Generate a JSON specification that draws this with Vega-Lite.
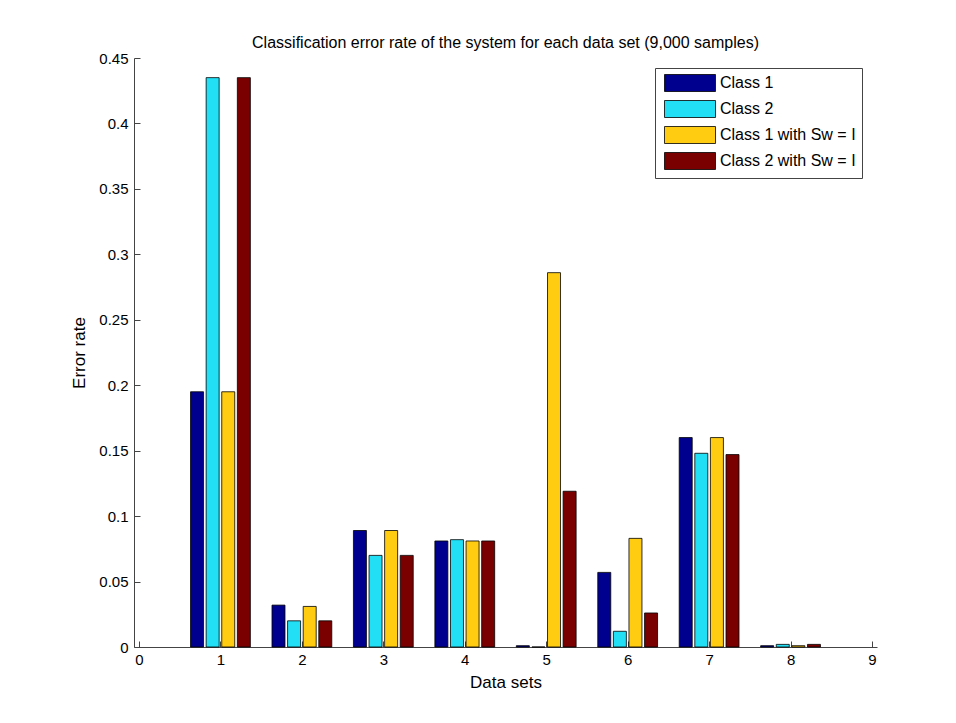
{
  "$schema": "https://vega.github.io/schema/vega-lite/v6.json",
  "width": 743,
  "height": 589,
  "autosize": {"type": "none"},
  "padding": {"left": 134, "top": 58, "right": 79, "bottom": 76},
  "background": "white",
  "config": {
    "font": "Liberation Sans",
    "view": {"stroke": null},
    "axis": {"grid": false, "domainColor": "#444", "tickColor": "#444", "labelColor": "black", "titleColor": "black", "labelFont": "Liberation Sans", "titleFont": "Liberation Sans", "labelFontSize": 15, "titleFontSize": 17, "titleFontWeight": "normal"}
  },
  "title": {"text": "Classification error rate of the system for each data set (9,000 samples)", "fontSize": 16, "fontWeight": "normal", "font": "Liberation Sans", "color": "black", "offset": 0, "frame": "group"},
  "data": {"values": [
    {"set": 1, "cls": "Class 1", "err": 0.195},
    {"set": 1, "cls": "Class 2", "err": 0.435},
    {"set": 1, "cls": "Class 1 with Sw = I", "err": 0.195},
    {"set": 1, "cls": "Class 2 with Sw = I", "err": 0.435},
    {"set": 2, "cls": "Class 1", "err": 0.032},
    {"set": 2, "cls": "Class 2", "err": 0.020},
    {"set": 2, "cls": "Class 1 with Sw = I", "err": 0.031},
    {"set": 2, "cls": "Class 2 with Sw = I", "err": 0.020},
    {"set": 3, "cls": "Class 1", "err": 0.089},
    {"set": 3, "cls": "Class 2", "err": 0.070},
    {"set": 3, "cls": "Class 1 with Sw = I", "err": 0.089},
    {"set": 3, "cls": "Class 2 with Sw = I", "err": 0.070},
    {"set": 4, "cls": "Class 1", "err": 0.081},
    {"set": 4, "cls": "Class 2", "err": 0.082},
    {"set": 4, "cls": "Class 1 with Sw = I", "err": 0.081},
    {"set": 4, "cls": "Class 2 with Sw = I", "err": 0.081},
    {"set": 5, "cls": "Class 1", "err": 0.001},
    {"set": 5, "cls": "Class 2", "err": 0.0},
    {"set": 5, "cls": "Class 1 with Sw = I", "err": 0.286},
    {"set": 5, "cls": "Class 2 with Sw = I", "err": 0.119},
    {"set": 6, "cls": "Class 1", "err": 0.057},
    {"set": 6, "cls": "Class 2", "err": 0.012},
    {"set": 6, "cls": "Class 1 with Sw = I", "err": 0.083},
    {"set": 6, "cls": "Class 2 with Sw = I", "err": 0.026},
    {"set": 7, "cls": "Class 1", "err": 0.160},
    {"set": 7, "cls": "Class 2", "err": 0.148},
    {"set": 7, "cls": "Class 1 with Sw = I", "err": 0.160},
    {"set": 7, "cls": "Class 2 with Sw = I", "err": 0.147},
    {"set": 8, "cls": "Class 1", "err": 0.001},
    {"set": 8, "cls": "Class 2", "err": 0.002},
    {"set": 8, "cls": "Class 1 with Sw = I", "err": 0.001},
    {"set": 8, "cls": "Class 2 with Sw = I", "err": 0.002}
  ]},
  "encoding": {
    "x": {"field": "set", "type": "quantitative", "scale": {"domain": [0, 9], "nice": false, "zero": false},
      "axis": {"values": [0,1,2,3,4,5,6,7,8,9], "format": "d", "title": "Data sets", "tickSize": -6, "labelPadding": 11, "titlePadding": 7, "labelFlush": false}},
    "y": {"field": "err", "type": "quantitative", "stack": null, "scale": {"domain": [0, 0.45], "nice": false},
      "axis": {"values": [0,0.05,0.1,0.15,0.2,0.25,0.3,0.35,0.4,0.45], "format": "~g", "title": "Error rate", "tickSize": -6, "labelPadding": 12, "titlePadding": 10}},
    "color": {"field": "cls", "type": "nominal", "sort": ["Class 1", "Class 2", "Class 1 with Sw = I", "Class 2 with Sw = I"],
      "scale": {"domain": ["Class 1", "Class 2", "Class 1 with Sw = I", "Class 2 with Sw = I"], "range": ["#00008f", "#22dff6", "#ffcc12", "#7a0000"]},
      "legend": {"title": null, "orient": "none", "legendX": 521, "legendY": 10, "symbolType": "M-3,-1H3V1H-3Z", "symbolSize": 289, "symbolStrokeColor": "black", "symbolStrokeWidth": 0.8, "symbolOpacity": 1, "symbolOffset": 20, "labelFontSize": 16, "labelFont": "Liberation Sans", "labelColor": "black", "strokeColor": "#444", "fillColor": "white", "padding": 6, "rowPadding": 4, "labelOffset": 21}}
  },
  "layer": [
    {"transform": [{"filter": "datum.cls === 'Class 1'"}], "mark": {"type": "bar", "stroke": "black", "strokeWidth": 0.8, "width": 13, "xOffset": -23.4}},
    {"transform": [{"filter": "datum.cls === 'Class 2'"}], "mark": {"type": "bar", "stroke": "black", "strokeWidth": 0.8, "width": 13, "xOffset": -7.8}},
    {"transform": [{"filter": "datum.cls === 'Class 1 with Sw = I'"}], "mark": {"type": "bar", "stroke": "black", "strokeWidth": 0.8, "width": 13, "xOffset": 7.8}},
    {"transform": [{"filter": "datum.cls === 'Class 2 with Sw = I'"}], "mark": {"type": "bar", "stroke": "black", "strokeWidth": 0.8, "width": 13, "xOffset": 23.4}}
  ]
}
